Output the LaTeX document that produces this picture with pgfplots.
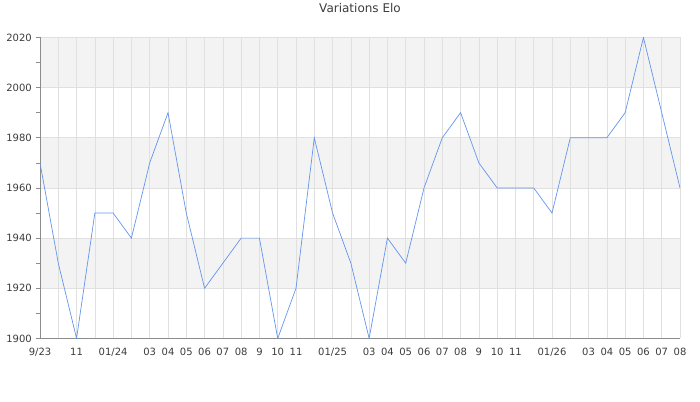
\documentclass[border=0pt]{standalone}
\usepackage{pgfplots}
\pgfplotsset{compat=1.18}
\usepackage{fontspec}
\setmainfont{DejaVu Sans}

\definecolor{eloline}{RGB}{100,149,237}
\definecolor{band}{RGB}{243,243,243}
\definecolor{gridc}{RGB}{224,224,224}
\definecolor{axisc}{RGB}{140,140,140}
\definecolor{txt}{RGB}{60,60,60}

\begin{document}
\begin{tikzpicture}
\begin{axis}[
  set layers,
  at={(40pt,63pt)}, anchor=south west,
  scale only axis, width=640pt, height=301pt,
  xmin=0, xmax=35, ymin=1900, ymax=2020,
  axis x line*=bottom, axis y line*=left,
  axis line style={axisc, line width=0.8pt},
  xtick={0,...,35},
  xticklabels={9/23,{},11,{},01/24,{},03,04,05,06,07,08,9,10,11,{},01/25,{},03,04,05,06,07,08,9,10,11,{},01/26,{},03,04,05,06,07,08},
  ytick={1900,1920,...,2020},
  minor y tick num=1,
  xtick style={draw=none},
  ytick style={axisc, line width=0.6pt},
  tick align=outside,
  major tick length=4pt, minor tick length=4pt,
  xmajorgrids, ymajorgrids,
  major grid style={gridc, line width=0.6pt},
  /pgf/number format/assume math mode=true,
  /pgf/number format/1000 sep={},
  ticklabel style={font=\fontsize{10}{12}\selectfont, text=txt},
  xticklabel style={inner sep=0pt, anchor=base, yshift=-13pt},
  yticklabel style={inner sep=0pt, anchor=east, xshift=-4pt},
  title={Variations Elo},
  title style={anchor=base, yshift=19pt, font=\fontsize{12}{14}\selectfont, text=txt},
]
\addplot[draw=none, fill=band, on layer=axis background] coordinates {(0,1920) (35,1920) (35,1940) (0,1940)};
\addplot[draw=none, fill=band, on layer=axis background] coordinates {(0,1960) (35,1960) (35,1980) (0,1980)};
\addplot[draw=none, fill=band, on layer=axis background] coordinates {(0,2000) (35,2000) (35,2020) (0,2020)};
\addplot[eloline, line width=0.7pt, mark=none] coordinates {
(0,1970) (1,1930) (2,1900) (3,1950) (4,1950) (5,1940) (6,1970) (7,1990)
(8,1950) (9,1920) (10,1930) (11,1940) (12,1940) (13,1900) (14,1920) (15,1980)
(16,1950) (17,1930) (18,1900) (19,1940) (20,1930) (21,1960) (22,1980) (23,1990)
(24,1970) (25,1960) (26,1960) (27,1960) (28,1950) (29,1980) (30,1980) (31,1980)
(32,1990) (33,2020) (34,1990) (35,1960)
};
\end{axis}
\path (0,0) rectangle (700pt,400pt);
\end{tikzpicture}
\end{document}
